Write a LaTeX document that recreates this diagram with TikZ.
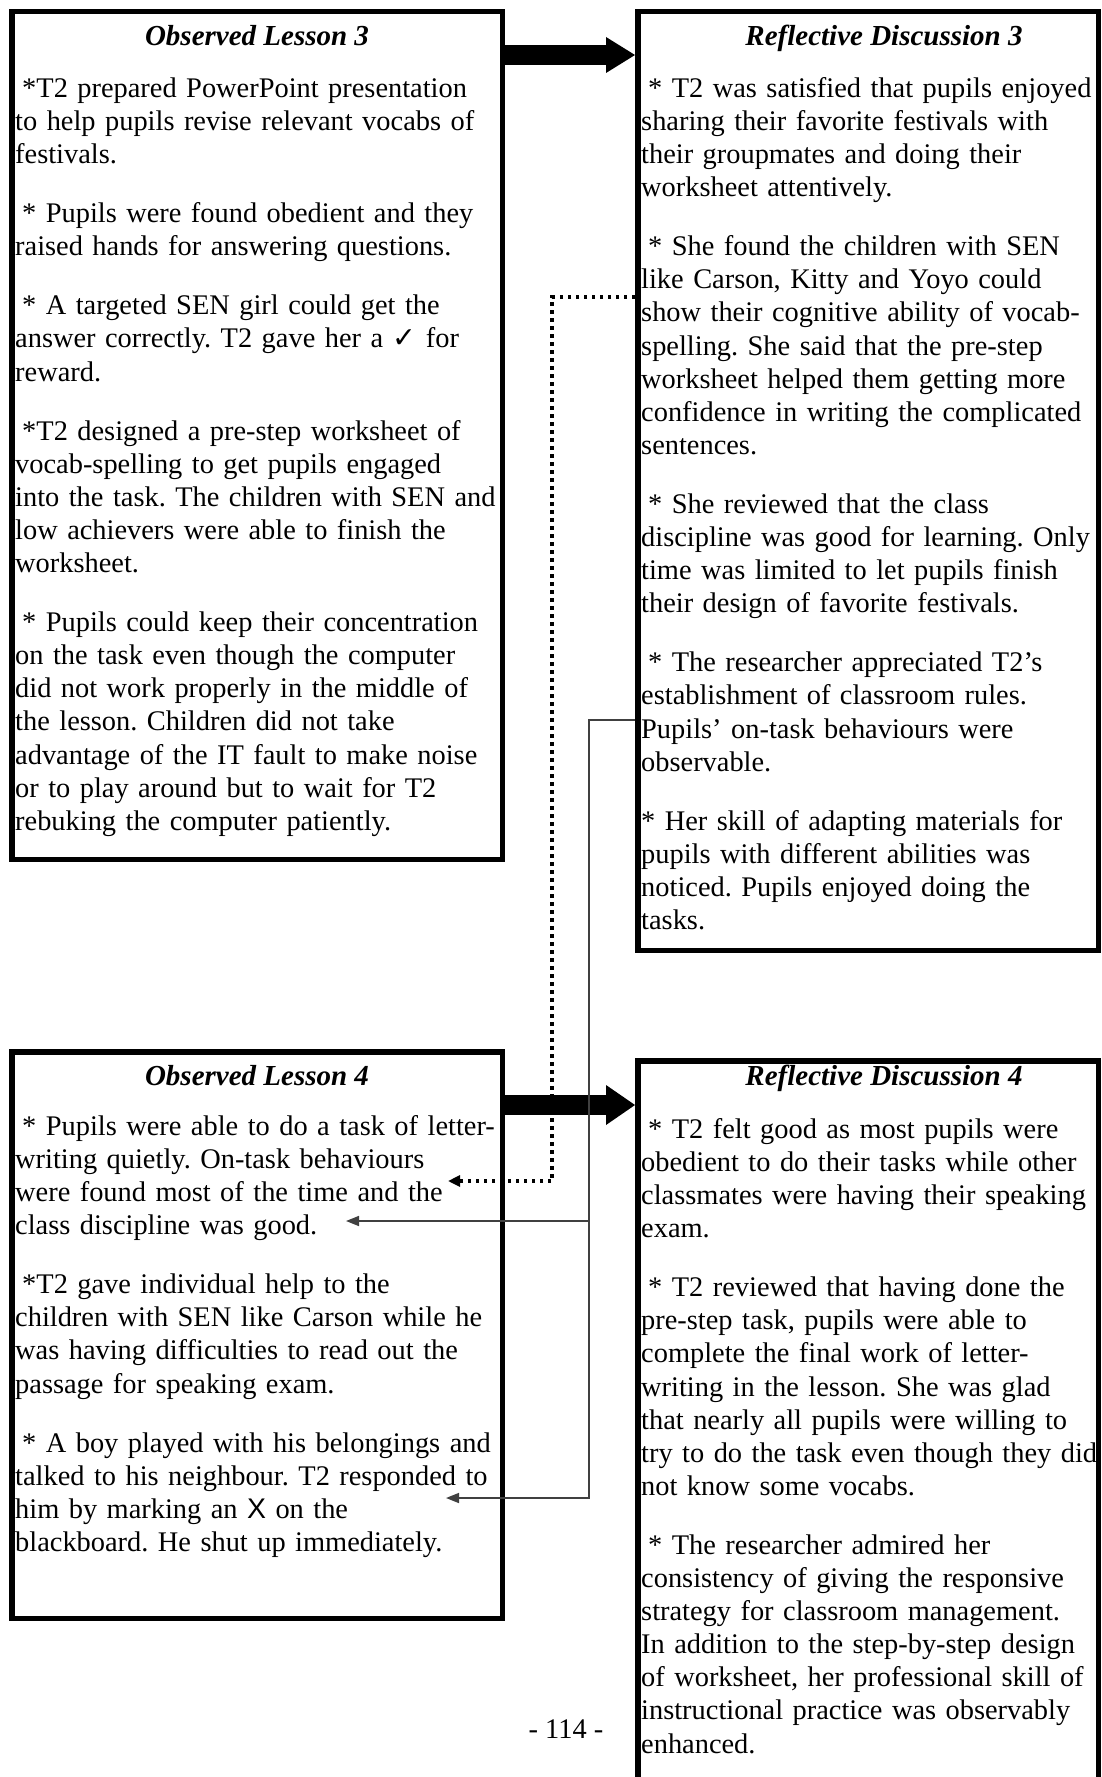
\documentclass[tikz,border=0pt]{standalone}
\usepackage{fontspec}
\setmainfont{Liberation Serif}
\newfontfamily\symfont{DejaVu Sans}
\newfontfamily\sansX{Liberation Sans}
\usetikzlibrary{arrows.meta,calc}
\frenchspacing
\newcommand\bodysize{\fontsize{28.4}{33.1}\selectfont}
\newcommand\headsize{\fontsize{29}{33.1}\selectfont}
\newcommand\lsp{\hspace*{7pt}}
\begin{document}
\begin{tikzpicture}[x=1pt,y=-1pt,
  panel/.style={draw, line width=5.5pt, rectangle, inner sep=0pt, anchor=north west},
  ttl/.style={font=\headsize\bfseries\itshape, anchor=base, inner sep=0pt},
  body/.style={font=\bodysize, anchor=north west, inner sep=0pt, text width=600pt, align=left},
  bigshaft/.style={line width=20pt},
  dotlink/.style={line width=3.5pt, dash pattern=on 3.5pt off 4.5pt, -{Triangle[length=12pt,width=11pt]}},
  thinlink/.style={line width=1.6pt, black!75, -{Triangle[length=13pt,width=10pt]}}
]
\useasboundingbox (0,0) rectangle (1102,1777);
\clip (0,0) rectangle (1102,1777);

% panels
\node[panel, minimum width=490.5pt, minimum height=847.5pt] (ol3) at (9,9) {};
\node[panel, minimum width=460.5pt, minimum height=938.5pt] (rd3) at (635,9) {};
\node[panel, minimum width=490.5pt, minimum height=566.5pt] (ol4) at (9,1049) {};
\node[panel, minimum width=460.5pt, minimum height=836.5pt] (rd4) at (635,1058) {};

% headings
\node[ttl] (ol3t) at (257,46) {Observed Lesson 3};
\node[ttl] (rd3t) at (884,46) {Reflective Discussion 3};
\node[ttl] (ol4t) at (257,1085) {Observed Lesson 4};
\node[ttl] (rd4t) at (884,1085) {Reflective Discussion 4};

% panel texts
\node[body] (ol3b) at (15,74) {\strut\lsp*T2 prepared PowerPoint presentation\\
to help pupils revise relevant vocabs of\\
festivals.\\[26pt]
\lsp* Pupils were found obedient and they\\
raised hands for answering questions.\\[26pt]
\lsp* A targeted SEN girl could get the\\
answer correctly. T2 gave her a {\symfont ✓} for\\
reward.\\[26pt]
\lsp*T2 designed a pre-step worksheet of\\
vocab-spelling to get pupils engaged\\
into the task. The children with SEN and\\
low achievers were able to finish the\\
worksheet.\\[26pt]
\lsp* Pupils could keep their concentration\\
on the task even though the computer\\
did not work properly in the middle of\\
the lesson. Children did not take\\
advantage of the IT fault to make noise\\
or to play around but to wait for T2\\
rebuking the computer patiently.};

\node[body] (rd3b) at (641,74) {\strut\lsp* T2 was satisfied that pupils enjoyed\\
sharing their favorite festivals with\\
their groupmates and doing their\\
worksheet attentively.\\[26pt]
\lsp* She found the children with SEN\\
like Carson, Kitty and Yoyo could\\
show their cognitive ability of vocab-\\
spelling. She said that the pre-step\\
worksheet helped them getting more\\
confidence in writing the complicated\\
sentences.\\[26pt]
\lsp* She reviewed that the class\\
discipline was good for learning. Only\\
time was limited to let pupils finish\\
their design of favorite festivals.\\[26pt]
\lsp* The researcher appreciated T2’s\\
establishment of classroom rules.\\
Pupils’ on-task behaviours were\\
observable.\\[26pt]
{}* Her skill of adapting materials for\\
pupils with different abilities was\\
noticed. Pupils enjoyed doing the\\
tasks.};

\node[body] (ol4b) at (15,1112) {\strut\lsp* Pupils were able to do a task of letter-\\
writing quietly. On-task behaviours\\
were found most of the time and the\\
class discipline was good.\\[26pt]
\lsp*T2 gave individual help to the\\
children with SEN like Carson while he\\
was having difficulties to read out the\\
passage for speaking exam.\\[26pt]
\lsp* A boy played with his belongings and\\
talked to his neighbour. T2 responded to\\
him by marking an {\sansX X} on the\\
blackboard. He shut up immediately.};

\node[body] (rd4b) at (641,1115) {\strut\lsp* T2 felt good as most pupils were\\
obedient to do their tasks while other\\
classmates were having their speaking\\
exam.\\[26pt]
\lsp* T2 reviewed that having done the\\
pre-step task, pupils were able to\\
complete the final work of letter-\\
writing in the lesson. She was glad\\
that nearly all pupils were willing to\\
try to do the task even though they did\\
not know some vocabs.\\[26pt]
\lsp* The researcher admired her\\
consistency of giving the responsive\\
strategy for classroom management.\\
In addition to the step-by-step design\\
of worksheet, her professional skill of\\
instructional practice was observably\\
enhanced.};

\node[font=\bodysize, anchor=base, inner sep=0pt] (page) at (566,1738) {- 114 -};

% block arrows from lessons to discussions
\coordinate (ya) at (0,55);
\coordinate (yb) at (0,1105);
\draw[bigshaft] (ol3.east |- ya) -- ($(rd3.west |- ya)+(-27,0)$);
\fill ($(rd3.west |- ya)+(-29,-18)$) -- (rd3.west |- ya) -- ($(rd3.west |- ya)+(-29,18)$) -- cycle;
\draw[bigshaft] (ol4.east |- yb) -- ($(rd4.west |- yb)+(-27,0)$);
\fill ($(rd4.west |- yb)+(-29,-20)$) -- (rd4.west |- yb) -- ($(rd4.west |- yb)+(-29,20)$) -- cycle;

% links between discussion points and lesson observations
\coordinate (ydot) at (0,297);
\coordinate (dotturn) at (552,1181);
\coordinate (dottip) at (448,1181);
\draw[dotlink] (rd3.west |- ydot) -| (dotturn) -- (dottip);

\coordinate (ythin) at (0,720);
\coordinate (thinturn) at (589,1498);
\coordinate (thintip) at (446,1498);
\coordinate (branch) at (589,1221);
\coordinate (branchtip) at (346,1221);
\draw[thinlink] (rd3.west |- ythin) -| (thinturn) -- (thintip);
\draw[thinlink] (branch) -- (branchtip);
\end{tikzpicture}
\end{document}
